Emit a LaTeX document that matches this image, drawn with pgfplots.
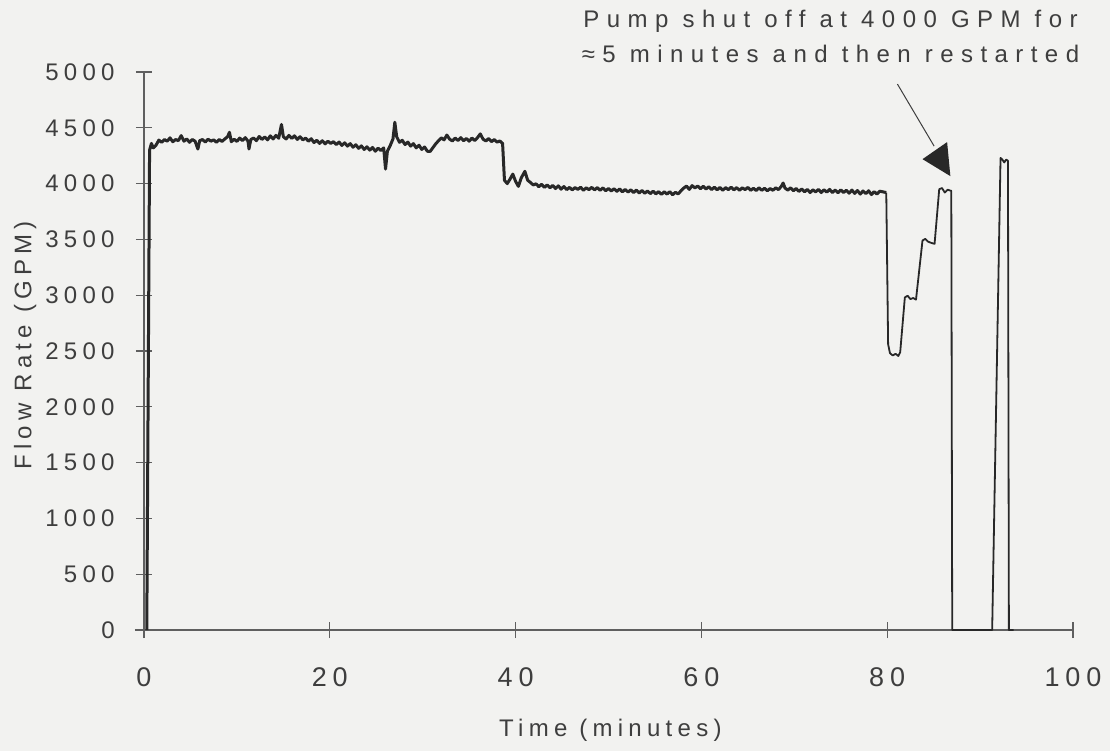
\documentclass[border=0pt]{standalone}
\usepackage{fontspec}
\setmainfont{Liberation Sans}[LetterSpace=22]
\usepackage{pgfplots}
\pgfplotsset{compat=1.18}

\definecolor{bg}{RGB}{242,242,240}
\definecolor{ink}{RGB}{40,40,40}
\definecolor{txt}{RGB}{62,62,62}
\definecolor{axisgray}{RGB}{95,95,95}

% flow rate record
% steady running part (noisy trace)
\pgfplotstableread{
x y
0.3 0
0.6 4300
0.8 4360
1.0 4320
1.3 4345
1.6 4390
1.9 4370
2.2 4395
2.5 4380
2.8 4410
3.1 4375
3.4 4395
3.7 4385
4.0 4430
4.3 4380
4.6 4400
4.9 4370
5.2 4395
5.5 4380
5.8 4310
6.0 4385
6.3 4395
6.6 4372
6.9 4398
7.2 4380
7.5 4392
7.8 4370
8.1 4395
8.4 4378
8.7 4400
9.0 4420
9.2 4460
9.4 4375
9.7 4398
10.0 4378
10.3 4408
10.6 4385
10.9 4412
11.2 4380
11.3 4310
11.5 4395
11.8 4408
12.1 4385
12.4 4422
12.7 4396
13.0 4418
13.3 4392
13.6 4428
13.9 4400
14.2 4432
14.5 4406
14.8 4530
15.0 4420
15.3 4400
15.6 4432
15.9 4405
16.2 4428
16.5 4396
16.8 4420
17.1 4392
17.4 4408
17.7 4380
18.0 4402
18.3 4368
18.6 4388
18.9 4360
19.2 4384
19.5 4356
19.8 4380
20.1 4360
20.4 4376
20.7 4350
21.0 4372
21.3 4342
21.6 4366
21.9 4336
22.2 4358
22.5 4326
22.8 4348
23.1 4316
23.4 4338
23.7 4306
24.0 4330
24.3 4300
24.6 4324
24.9 4290
25.2 4318
25.5 4296
25.8 4320
26.0 4130
26.2 4290
26.5 4340
26.8 4400
27.0 4550
27.2 4420
27.5 4370
27.8 4388
28.1 4350
28.4 4372
28.7 4336
29.0 4358
29.3 4320
29.6 4344
29.9 4306
30.2 4328
30.5 4290
30.8 4288
31.1 4322
31.4 4356
31.7 4384
32.0 4410
32.3 4392
32.6 4435
32.9 4398
33.2 4382
33.5 4408
33.8 4386
34.1 4412
34.4 4384
34.7 4404
35.0 4380
35.3 4408
35.6 4386
35.9 4412
36.2 4445
36.5 4398
36.8 4382
37.1 4404
37.4 4376
37.7 4394
38.0 4372
38.3 4382
38.6 4360
38.8 4030
39.1 4000
39.4 4040
39.7 4085
40.0 4020
40.3 3975
40.6 4050
41.0 4110
41.3 4030
41.6 4010
41.9 3988
42.2 3998
42.5 3972
42.8 3994
43.1 3966
43.4 3988
43.7 3962
44.0 3984
44.3 3956
44.6 3980
44.9 3950
45.2 3974
45.5 3946
45.8 3966
46.1 3944
46.4 3964
46.7 3948
47.0 3968
47.3 3940
47.6 3962
47.9 3946
48.2 3966
48.5 3944
48.8 3964
49.1 3940
49.4 3962
49.7 3936
50.0 3956
50.3 3934
50.6 3954
50.9 3930
51.2 3952
51.5 3926
51.8 3948
52.1 3924
52.4 3944
52.7 3920
53.0 3942
53.3 3916
53.6 3938
53.9 3914
54.2 3934
54.5 3910
54.8 3932
55.1 3908
55.4 3928
55.7 3904
56.0 3926
56.3 3906
56.6 3928
56.9 3900
57.2 3922
57.5 3908
57.8 3935
58.1 3960
58.4 3978
58.7 3948
59.0 3982
59.3 3962
59.6 3978
59.9 3954
60.2 3976
60.5 3952
60.8 3972
61.1 3946
61.4 3968
61.7 3944
62.0 3966
62.3 3940
62.6 3964
62.9 3946
63.2 3968
63.5 3944
63.8 3964
64.1 3940
64.4 3962
64.7 3946
65.0 3966
65.3 3940
65.6 3958
65.9 3938
66.2 3962
66.5 3940
66.8 3958
67.1 3936
67.4 3956
67.7 3940
68.0 3962
68.3 3946
68.6 3975
68.8 4005
69.0 3960
69.3 3942
69.6 3962
69.9 3936
70.2 3956
70.5 3930
70.8 3952
71.1 3926
71.4 3948
71.7 3920
72.0 3944
72.3 3926
72.6 3948
72.9 3920
73.2 3944
73.5 3924
73.8 3948
74.1 3920
74.4 3942
74.7 3918
75.0 3944
75.3 3920
75.6 3940
75.9 3914
76.2 3942
76.5 3912
76.8 3938
77.1 3906
77.4 3934
77.7 3910
78.0 3936
78.3 3902
78.6 3928
78.9 3906
79.2 3932
79.6 3925
79.9 3920
}\steadydata

% shut-down, step-up, trip and restart
\pgfplotstableread{
x y
79.9 3920
80.1 2560
80.3 2480
80.6 2460
80.9 2475
81.2 2455
81.4 2490
81.9 2980
82.2 2995
82.5 2965
82.8 2975
83.1 2960
83.8 3490
84.1 3505
84.4 3480
84.7 3470
85.1 3460
85.6 3950
85.9 3960
86.2 3920
86.5 3945
86.9 3935
87.0 0
91.3 0
92.2 4230
92.4 4215
92.6 4190
92.8 4215
93.0 4205
93.1 0
93.6 0
}\tripdata

\begin{document}
\begin{tikzpicture}
\fill[bg] (-72pt,-60.5pt) rectangle (483pt,315pt);
\begin{axis}[
  width=464.5pt, height=279pt, scale only axis,
  xmin=0, xmax=100, ymin=0, ymax=5000,
  axis x line=bottom, axis y line=left,
  axis line style={-, draw=axisgray, line width=0.6pt},
  x axis line style={shorten <=-4.5pt},
  tick align=center, major tick length=8pt,
  tick style={draw=axisgray, line width=0.6pt},
  xtick={0,20,40,60,80,100},
  ytick={0,500,1000,1500,2000,2500,3000,3500,4000,4500,5000},
  scaled ticks=false,
  /pgf/number format/1000 sep={},
  /pgf/number format/assume math mode=true,
  xticklabel style={anchor=center, yshift=-19.5pt, text=txt,
    font=\fontsize{13.5}{16}\selectfont},
  yticklabel style={anchor=east, inner sep=0pt, xshift=-10.5pt, text=txt,
    font=\fontsize{12}{14}\selectfont},
  xlabel={Time (minutes)},
  ylabel={Flow Rate (GPM)},
  x label style={at={(axis description cs:0.502,-0.179)}, anchor=center,
    text=txt, font=\fontsize{12}{14}\selectfont},
  y label style={at={(axis description cs:-0.128,0.51)}, anchor=center,
    text=txt, font=\fontsize{12}{14}\selectfont},
  clip=false,
]
\addplot[ink, line width=1.5pt, line join=round] table[x=x, y=y] {\steadydata};
\addplot[ink, line width=0.9pt, line join=round] table[x=x, y=y] {\tripdata};

\draw[txt, line width=0.5pt] (axis cs:81.1,4892) -- (axis cs:85.05,4336);
\fill[ink] (axis cs:83.8,4219) -- (axis cs:86.45,4372) -- (axis cs:86.8,4067) -- cycle;
\node[txt, align=center, font=\fontsize{12}{17.5}\selectfont\addfontfeature{LetterSpace=31}]
  at (axis cs:73.9,5319) {Pump shut off at 4000 GPM for\\≈5 minutes and then restarted};
\end{axis}
\pgfresetboundingbox
\path[use as bounding box] (-72pt,-60.5pt) rectangle (483pt,315pt);
\end{tikzpicture}
\end{document}
